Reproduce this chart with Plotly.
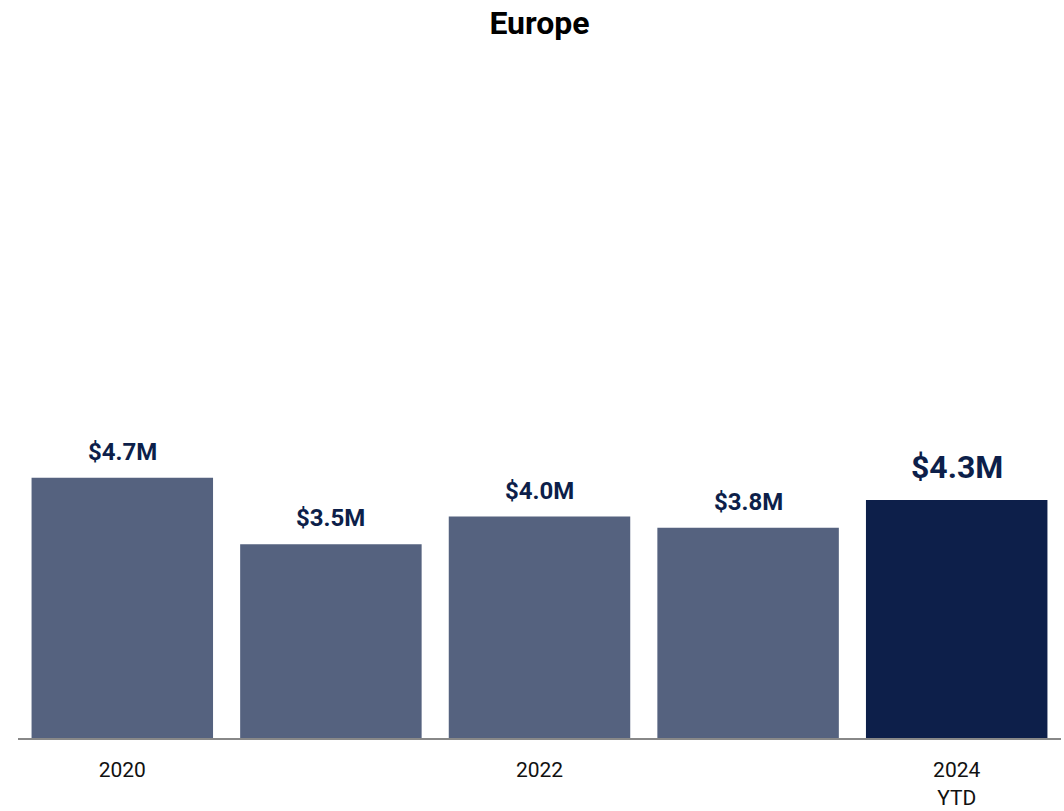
import plotly.graph_objects as go

# Yearly totals for Europe, in millions of USD
years = ["2020", "2021", "2022", "2023", "2024 YTD"]
values = [4.7, 3.5, 4.0, 3.8, 4.3]
tick_positions = [0, 2, 4]
tick_labels = ["2020", "2022", "2024<br>YTD"]

past_color = "#55627F"
current_color = "#0D1F4A"
bar_colors = [past_color] * (len(years) - 1) + [current_color]
positions = list(range(len(years)))

fig = go.Figure(
    go.Bar(
        x=positions,
        y=values,
        customdata=years,
        marker=dict(color=bar_colors, line=dict(width=0)),
        hovertemplate="%{customdata}: $%{y:.1f}M<extra></extra>",
    )
)

# Value labels above each bar; the current year gets a larger label
for i, v in zip(positions, values):
    is_current = i == len(years) - 1
    fig.add_annotation(
        x=i,
        y=v,
        text=f"<b>${v:.1f}M</b>",
        showarrow=False,
        yanchor="bottom",
        yshift=12 if is_current else 10,
        font=dict(family="Roboto", size=32 if is_current else 24, color=current_color),
    )

fig.update_layout(
    width=1064,
    height=811,
    margin=dict(l=18, r=3, t=60, b=73),
    paper_bgcolor="white",
    plot_bgcolor="white",
    bargap=0.13,
    showlegend=False,
    title=dict(
        text="<b>Europe</b>",
        xref="paper",
        x=0.5,
        xanchor="center",
        y=0.972,
        yanchor="middle",
        font=dict(family="Roboto", size=32, color="black"),
    ),
    font=dict(family="Roboto"),
)

fig.update_xaxes(
    range=[-0.5, len(years) - 0.5],
    tickmode="array",
    tickvals=tick_positions,
    ticktext=tick_labels,
    tickfont=dict(family="Roboto", size=21, color="#111111"),
    ticklabelstandoff=12,
    automargin=False,
    showline=True,
    linecolor="#888888",
    linewidth=2,
    ticks="",
    showgrid=False,
    zeroline=False,
)
fig.update_yaxes(
    range=[0, 12.25],
    visible=False,
    showgrid=False,
    zeroline=False,
)

fig.write_html("out.html")
